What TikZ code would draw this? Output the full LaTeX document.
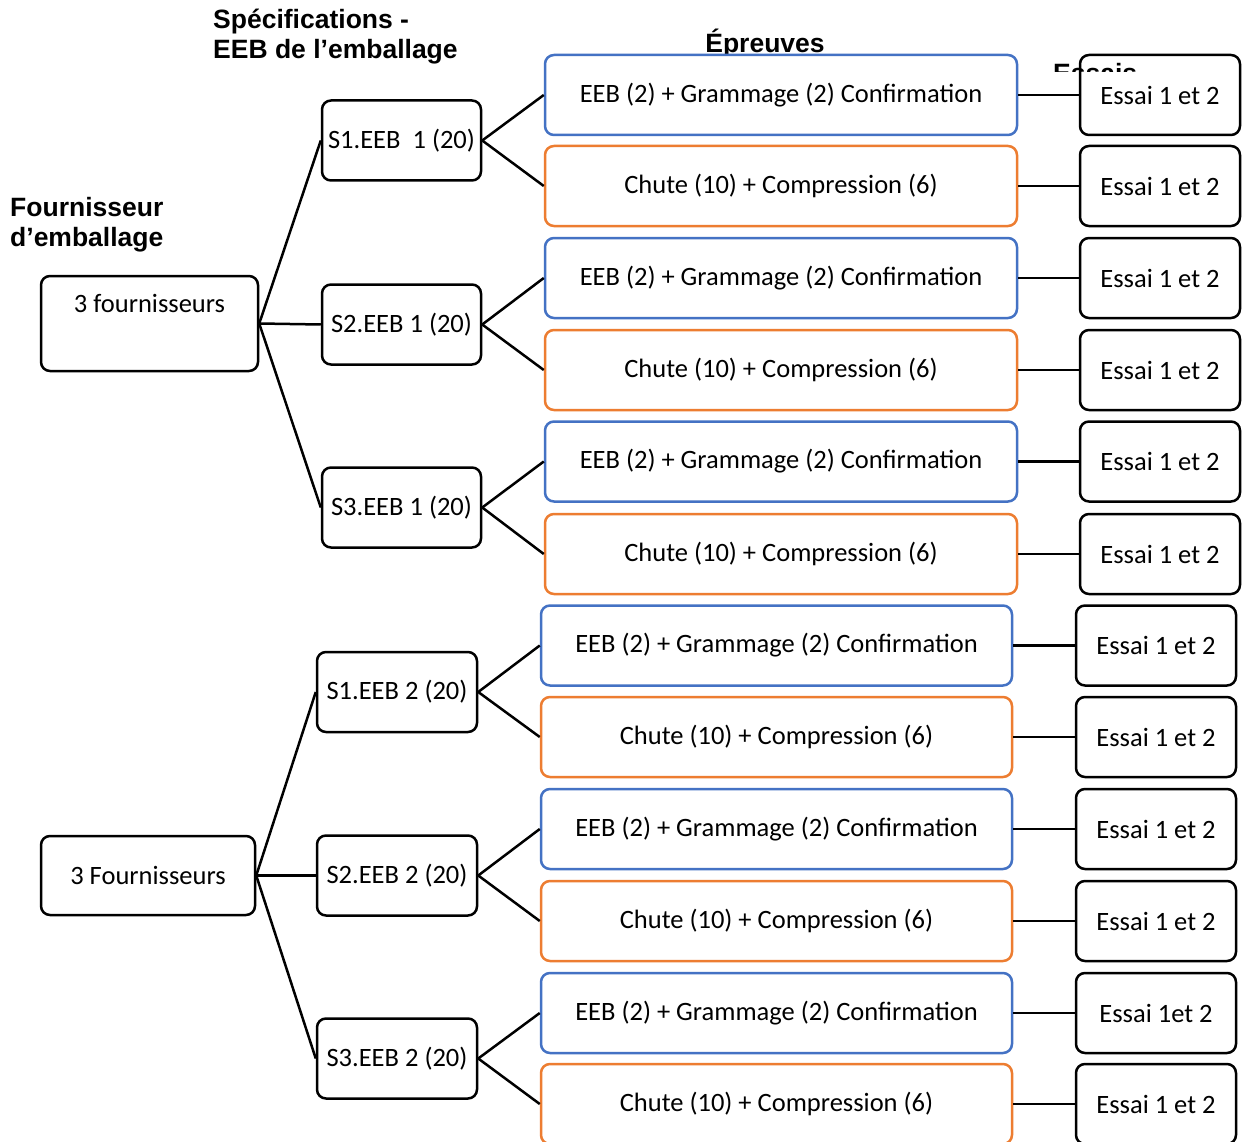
\documentclass[tikz,border=0pt]{standalone}
\usepackage{fontspec}
\setmainfont{Carlito}
\newfontfamily\hdfont{Liberation Sans}
\definecolor{blueC}{HTML}{4472C4}
\definecolor{orangeC}{HTML}{ED7D31}
\tikzset{
  base/.style={draw, line width=2.5pt, rounded corners=9pt, fill=white, inner sep=0pt,
    font=\fontsize{26.5}{30}\selectfont},
  blk/.style={base, draw=black},
  blu/.style={base, draw=blueC, minimum width=472, minimum height=80},
  org/.style={base, draw=orangeC, minimum width=472, minimum height=80},
  spec/.style={blk, minimum width=159, minimum height=80},
  ess/.style={blk, minimum width=160, minimum height=80, text depth=0pt, yshift=0pt},
  txt/.style={inner sep=0pt, font=\fontsize{26.5}{30}\selectfont},
  hdr/.style={inner sep=0pt, align=left, font=\hdfont\bfseries\fontsize{26.5}{30}\selectfont},
  conn/.style={line width=2.5pt, black}
}
\begin{document}
\begin{tikzpicture}[x=1pt,y=-1pt]
\useasboundingbox (0,0) rectangle (1247,1142);
\fill[white] (0,0) rectangle (1247,1142);

% headers
\node[hdr, anchor=north west] (h1) at (213,9) {Spécifications -\\EEB de l’emballage};
\node[hdr, anchor=base] (h2) at (765,53) {Épreuves};
\node[hdr, anchor=north west] (h3) at (10,197) {Fournisseur\\d’emballage};

% ---------- group 1 ----------
\node[blk, minimum width=217, minimum height=95] (f1) at (149.5,323.5) {};
\node[txt] (f1t) at (149.5,303) {3 fournisseurs};

\node[spec] (s11) at (401.5,140.5) {S1.EEB~ 1 (20)};
\node[spec] (s12) at (401.5,324.5) {S2.EEB 1 (20)};
\node[spec] (s13) at (401.5,507.5) {S3.EEB 1 (20)};

\node[blu] (b11) at (781,95) {EEB (2) + Grammage (2) Confirmation};
\node[org] (o11) at (781,186) {Chute (10) + Compression (6)};
\node[blu] (b12) at (781,278) {EEB (2) + Grammage (2) Confirmation};
\node[org] (o12) at (781,370) {Chute (10) + Compression (6)};
\node[blu] (b13) at (781,461.5) {EEB (2) + Grammage (2) Confirmation};
\node[org] (o13) at (781,554) {Chute (10) + Compression (6)};

\node[ess] (eb11) at (1160,95) {Essai 1 et 2};
\node[ess] (eo11) at (1160,186) {Essai 1 et 2};
\node[ess] (eb12) at (1160,278) {Essai 1 et 2};
\node[ess] (eo12) at (1160,370) {Essai 1 et 2};
\node[ess] (eb13) at (1160,461.5) {Essai 1 et 2};
\node[ess] (eo13) at (1160,554) {Essai 1 et 2};

% ---------- group 2 ----------
\node[blk, minimum width=214, minimum height=79] (f2) at (148,875.5) {3 Fournisseurs};

\node[spec, minimum width=160] (s21) at (397,692) {S1.EEB 2 (20)};
\node[spec, minimum width=160] (s22) at (397,875.5) {S2.EEB 2 (20)};
\node[spec, minimum width=160] (s23) at (397,1058.5) {S3.EEB 2 (20)};

\node[blu, minimum width=471] (b21) at (776.5,645.5) {EEB (2) + Grammage (2) Confirmation};
\node[org, minimum width=471] (o21) at (776.5,737) {Chute (10) + Compression (6)};
\node[blu, minimum width=471] (b22) at (776.5,829) {EEB (2) + Grammage (2) Confirmation};
\node[org, minimum width=471] (o22) at (776.5,921) {Chute (10) + Compression (6)};
\node[blu, minimum width=471] (b23) at (776.5,1013) {EEB (2) + Grammage (2) Confirmation};
\node[org, minimum width=471] (o23) at (776.5,1104) {Chute (10) + Compression (6)};

\node[ess] (eb21) at (1156,645.5) {Essai 1 et 2};
\node[ess] (eo21) at (1156,737) {Essai 1 et 2};
\node[ess] (eb22) at (1156,829) {Essai 1 et 2};
\node[ess] (eo22) at (1156,921) {Essai 1 et 2};
\node[ess] (eb23) at (1156,1013) {Essai 1et 2};
\node[ess] (eo23) at (1156,1104) {Essai 1 et 2};

% connectors
\foreach \g in {1,2}{
  \foreach \k in {1,2,3}{
    \draw[conn] (f\g.east) -- (s\g\k.west);
    \draw[conn] (s\g\k.east) -- (b\g\k.west);
    \draw[conn] (s\g\k.east) -- (o\g\k.west);
    \draw[conn] (b\g\k.east) -- (eb\g\k.west);
    \draw[conn] (o\g\k.east) -- (eo\g\k.west);
  }
}

% clipped "Essais" header
\begin{scope}
  \clip (1040,60) rectangle (1160,71.5);
  \node[hdr, anchor=base west] (h4) at (1053,83) {Essais};
\end{scope}
\end{tikzpicture}
\end{document}
